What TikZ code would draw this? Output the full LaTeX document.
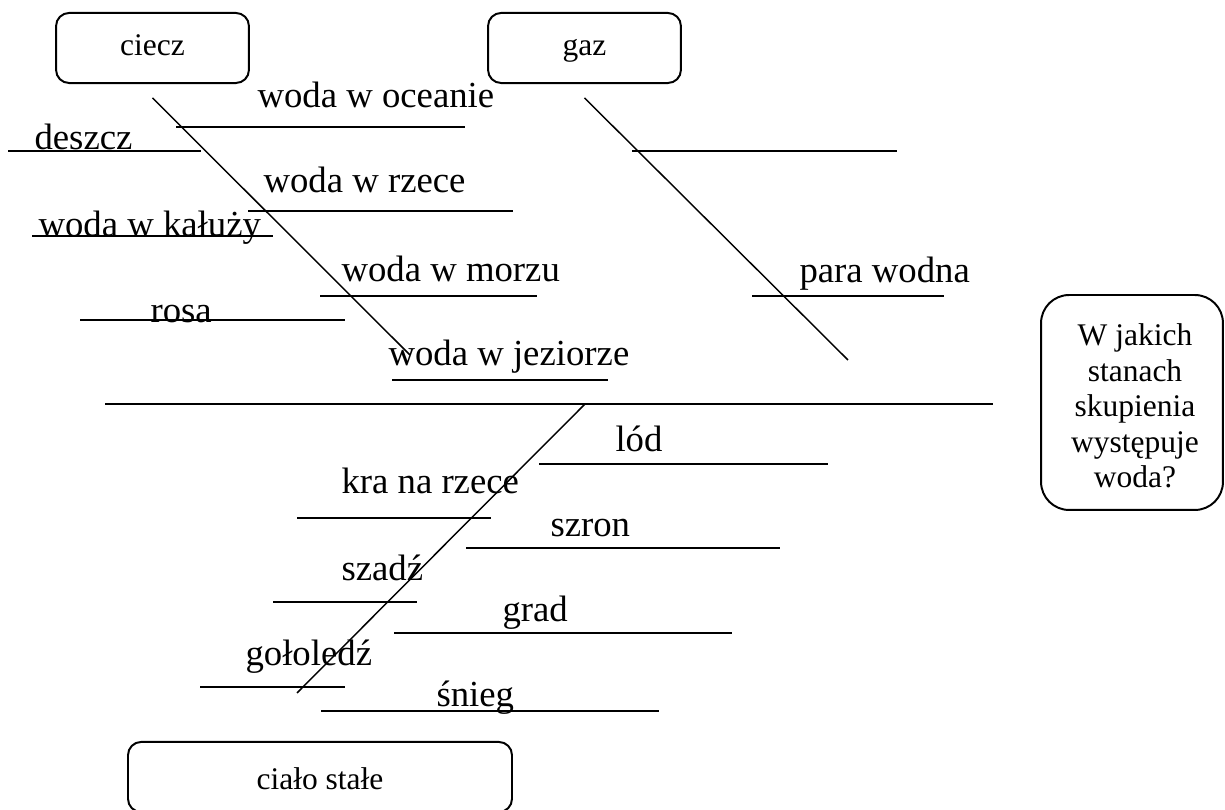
\documentclass[tikz,border=0pt]{standalone}
\usepackage{fontspec}
\setmainfont{Liberation Serif}[Ligatures=TeX]
\newfontfamily\tnr{Liberation Serif}
\begin{document}
\begin{tikzpicture}[x=0.381pt,y=-0.381pt,
  every node/.style={inner sep=0pt},
  lbl/.style={anchor=base west,font=\tnr\fontsize{14}{16}\selectfont},
  rule/.style={line width=0.9pt},
  spine/.style={line width=0.55pt},
  statebox/.style={draw,line width=0.75pt,rounded corners=5pt,
    font=\tnr\fontsize{12}{14}\selectfont,text height=6.1pt,text depth=0pt,
    minimum height=26.7pt},
  question/.style={draw,line width=0.75pt,rounded corners=10.7pt},
  qtext/.style={align=center,font=\tnr\fontsize{12}{13.5}\selectfont},
]
\useasboundingbox (0,0) rectangle (1225,810);

% state boxes
\node[statebox,minimum width=73.5pt] (ciecz) at (152.5,48) {ciecz};
\node[statebox,minimum width=73.5pt] (gaz) at (584.5,48) {gaz};
\node[statebox,minimum width=146.3pt,text height=9.9pt] (cialo) at (320,777) {ciało stałe};

% question box
\node[question,minimum width=69.3pt,minimum height=81.9pt] (qbox) at (1132,402.5) {};
\node[qtext,anchor=north] (qtxt) at (1135,323.5)
  {W jakich\\stanach\\skupienia\\występuje\\woda?};

% main spine
\coordinate (spL) at (105,404);
\coordinate (spR) at (993,404);
\coordinate (spJ) at (585,404);
\draw[rule] (spL) -- (spR);

% branches
\coordinate (cEnd) at (410,355);
\coordinate (gEnd) at (848,360);
\coordinate (sEnd) at (297,693);
\draw[spine] ([yshift=-5.3pt]ciecz.south) -- (cEnd);
\draw[spine] ([yshift=-5.3pt]gaz.south) -- (gEnd);
\draw[spine] (spJ) -- (sEnd);

% liquid answers
\draw[rule] (176,127) -- (465,127);
\draw[rule] (8,151) -- (201,151);
\draw[rule] (248,211) -- (513,211);
\draw[rule] (32,236) -- (273,236);
\draw[rule] (320,296) -- (537,296);
\draw[rule] (80,320) -- (345,320);
\draw[rule] (392,380) -- (608,380);
\node[lbl] (l1) at (257,108) {woda w oceanie};
\node[lbl] (l2) at (34,150) {deszcz};
\node[lbl] (l3) at (263,193) {woda w rzece};
\node[lbl] (l4) at (38,237) {woda w kałuży};
\node[lbl] (l5) at (341,282) {woda w morzu};
\node[lbl] (l6) at (150,323) {rosa};
\node[lbl] (l7) at (388,366) {woda w jeziorze};

% gas answers
\draw[rule] (632,151) -- (897,151);
\draw[rule] (752,296) -- (944,296);
\node[lbl] (g1) at (799,283) {para wodna};

% solid answers
\draw[rule] (539,464) -- (828,464);
\draw[rule] (297,518) -- (491,518);
\draw[rule] (466,548) -- (780,548);
\draw[rule] (273,602) -- (417,602);
\draw[rule] (394,633) -- (732,633);
\draw[rule] (200,687) -- (345,687);
\draw[rule] (321,711) -- (659,711);
\node[lbl] (s1) at (615,452) {lód};
\node[lbl] (s2) at (341,494) {kra na rzece};
\node[lbl] (s3) at (550,537) {szron};
\node[lbl] (s4) at (341,581) {szadź};
\node[lbl] (s5) at (502,622) {grad};
\node[lbl] (s6) at (245,666) {gołoledź};
\node[lbl] (s7) at (436,707) {śnieg};
\end{tikzpicture}
\end{document}
